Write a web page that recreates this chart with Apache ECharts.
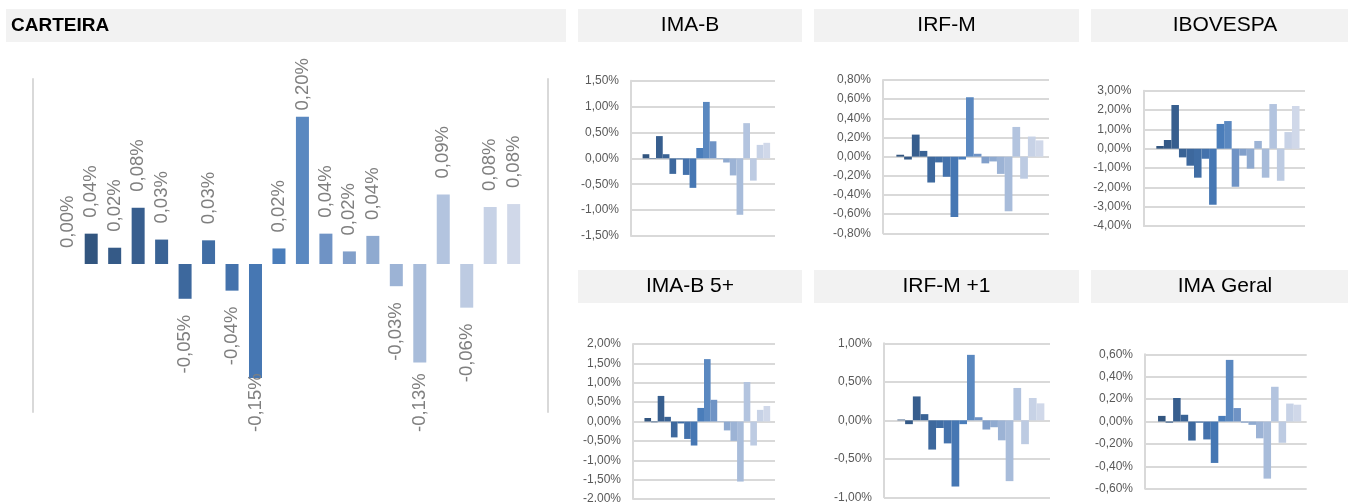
<!DOCTYPE html>
<html>
<head>
<meta charset="utf-8">
<title>Carteira x Índices</title>
<script src="https://cdn.jsdelivr.net/npm/echarts@6/dist/echarts.min.js"></script>
<style>
  html, body { margin: 0; padding: 0; background: #fff; }
  #chart { width: 1348px; height: 502px; }
</style>
</head>
<body>
<div id="chart"></div>
<script>
// rentabilidade mensal (%) - 20 séries, da mais escura para a mais clara
const carteira = [0.000, 0.041, 0.022, 0.076, 0.033, -0.047, 0.032, -0.036, -0.154, 0.021, 0.199, 0.041, 0.017, 0.038, -0.030, -0.133, 0.094, -0.059, 0.077, 0.081];
const imaB = [0, 0.08, -0.01, 0.43, 0.08, -0.30, -0.02, -0.32, -0.57, 0.20, 1.09, 0.33, -0.01, -0.08, -0.33, -1.09, 0.68, -0.43, 0.26, 0.30];
const irfM = [0, 0.02, -0.03, 0.23, 0.06, -0.27, -0.06, -0.21, -0.63, -0.03, 0.62, 0.03, -0.07, -0.05, -0.18, -0.57, 0.31, -0.23, 0.21, 0.17];
const ibovespa = [0, 0.14, 0.45, 2.26, -0.45, -0.88, -1.50, -0.52, -2.90, 1.28, 1.43, -1.97, -0.36, -1.03, 0.40, -1.50, 2.31, -1.66, 0.86, 2.21];
const imaB5 = [0, 0.09, -0.02, 0.66, 0.12, -0.41, -0.05, -0.45, -0.62, 0.35, 1.61, 0.56, -0.01, -0.23, -0.50, -1.55, 1.02, -0.62, 0.30, 0.40];
const irfM1 = [0, 0.01, -0.05, 0.31, 0.08, -0.38, -0.10, -0.30, -0.86, -0.05, 0.85, 0.04, -0.12, -0.09, -0.26, -0.79, 0.42, -0.31, 0.29, 0.22];
const imaGeral = [0, 0.05, -0.01, 0.21, 0.06, -0.17, -0.01, -0.16, -0.37, 0.05, 0.55, 0.12, -0.01, -0.03, -0.15, -0.51, 0.31, -0.19, 0.16, 0.15];

// eixo y: [min, max, intervalo]
const carteiraAxis = [-0.2, 0.25];
const imaBAxis = [-1.5, 1.5, 0.5];
const irfMAxis = [-0.8, 0.8, 0.2];
const ibovespaAxis = [-4, 3, 1];
const imaB5Axis = [-2, 2, 0.5];
const irfM1Axis = [-1, 1, 0.5];
const imaGeralAxis = [-0.6, 0.6, 0.2];

const shades = [
  "#2E4F7A", "#32557F", "#355A87", "#375E8E", "#3A6395", "#3D689D", "#406DA4", "#4472AC", "#4677B3", "#4A7DBA",
  "#5A88C0", "#6F93C5", "#819FCA", "#8FAAD0", "#9CB3D5", "#A8BCDA", "#B3C4DF", "#BDCBE2", "#C7D2E6", "#D0D8E9"
];

const FONT = "Liberation Sans";
const GRID_LINE = "#D9D9D9";

const panels = [
  { title: "IMA-B", values: imaB, axis: imaBAxis, box: [578, 9, 224, 33], grid: [631, 80.7, 144, 155.3] },
  { title: "IRF-M", values: irfM, axis: irfMAxis, box: [814, 9, 265, 33], grid: [883, 80, 166, 153.3] },
  { title: "IBOVESPA", values: ibovespa, axis: ibovespaAxis, box: [1091, 9, 268, 33], grid: [1143.3, 90.7, 161.7, 135.3] },
  { title: "IMA-B 5+", values: imaB5, axis: imaB5Axis, box: [578, 270, 224, 33], grid: [633, 344, 142, 155] },
  { title: "IRF-M +1", values: irfM1, axis: irfM1Axis, box: [814, 270, 265, 33], grid: [884, 343.3, 166, 154] },
  { title: "IMA Geral", values: imaGeral, axis: imaGeralAxis, box: [1091, 270, 268, 33], grid: [1145, 354.3, 161.7, 134.4] }
];

function pct(v) {
  const n = Math.abs(v) < 1e-9 ? 0 : v;
  return n.toFixed(2).replace(".", ",") + "%";
}

const chart = echarts.init(document.getElementById("chart"));

const grids = [
  { left: 56, top: 79, width: 469.4, height: 333, outerBoundsMode: "none", containLabel: false },
  { left: 33, top: 79, width: 515, height: 333, outerBoundsMode: "none", containLabel: false }
];
const xAxes = [
  { gridIndex: 0, type: "category", data: carteira.map((_, i) => i), show: false },
  { gridIndex: 1, type: "category", data: [""], show: false }
];
const decorLine = { show: true, lineStyle: { color: GRID_LINE, width: 2 } };
const yAxes = [
  { gridIndex: 0, type: "value", min: carteiraAxis[0], max: carteiraAxis[1], show: false },
  { gridIndex: 1, type: "value", position: "left", axisLine: decorLine, axisTick: { show: false }, axisLabel: { show: false }, splitLine: { show: false } },
  { gridIndex: 1, type: "value", position: "right", axisLine: decorLine, axisTick: { show: false }, axisLabel: { show: false }, splitLine: { show: false } }
];

// área do gráfico onde os rótulos precisam caber (como no Excel)
const LABEL_TOP = 58;
const LABEL_BOTTOM = 432;

const series = [{
  type: "bar",
  xAxisIndex: 0,
  yAxisIndex: 0,
  barWidth: 13,
  silent: true,
  data: carteira.map((v, i) => ({
    value: v,
    itemStyle: { color: shades[i] },
    label: {
      position: v >= 0 ? "top" : "bottom",
      align: v >= 0 ? "left" : "right"
    }
  })),
  label: {
    show: true,
    rotate: 90,
    verticalAlign: "middle",
    distance: 16,
    color: "#7F7F7F",
    fontSize: 18.5,
    fontFamily: FONT,
    formatter: p => pct(p.value)
  },
  labelLayout(params) {
    const r = params.labelRect;
    if (r.y < LABEL_TOP) return { y: LABEL_TOP + r.height };
    if (r.y + r.height > LABEL_BOTTOM) return { y: LABEL_BOTTOM - r.height };
    return {};
  }
}];

panels.forEach((panel, k) => {
  const [left, top, width, height] = panel.grid;
  grids.push({ left, top, width, height, outerBoundsMode: "none", containLabel: false });
  xAxes.push({ gridIndex: k + 2, type: "category", data: [panel.title], show: false });
  yAxes.push({
    gridIndex: k + 2,
    type: "value",
    min: panel.axis[0],
    max: panel.axis[1],
    interval: panel.axis[2],
    axisLine: decorLine,
    axisTick: { show: false },
    splitLine: { show: true, lineStyle: { color: GRID_LINE, width: 2 } },
    axisLabel: { color: "#595959", fontSize: 12, fontFamily: FONT, margin: 12, formatter: pct }
  });
  panel.values.forEach((v, i) => {
    series.push({
      type: "bar",
      xAxisIndex: k + 2,
      yAxisIndex: k + 3,
      data: [v],
      barGap: "0%",
      barCategoryGap: "6.8%",
      silent: true,
      itemStyle: { color: shades[i] }
    });
  });
});

function titleBox(text, box, left) {
  const [x, y, w, h] = box;
  return {
    type: "rect",
    silent: true,
    shape: { x, y, width: w, height: h },
    style: { fill: "#F2F2F2" },
    textContent: {
      style: {
        text,
        fill: "#000",
        fontFamily: FONT,
        fontSize: left ? 19 : 21,
        fontWeight: left ? "bold" : "normal"
      }
    },
    textConfig: left ? { position: "insideLeft", distance: 5 } : { position: "inside" }
  };
}

chart.setOption({
  animation: false,
  textStyle: { fontFamily: FONT },
  grid: grids,
  xAxis: xAxes,
  yAxis: yAxes,
  series,
  graphic: [titleBox("CARTEIRA", [6, 9, 560, 33], true)].concat(panels.map(p => titleBox(p.title, p.box, false)))
});
</script>
</body>
</html>
